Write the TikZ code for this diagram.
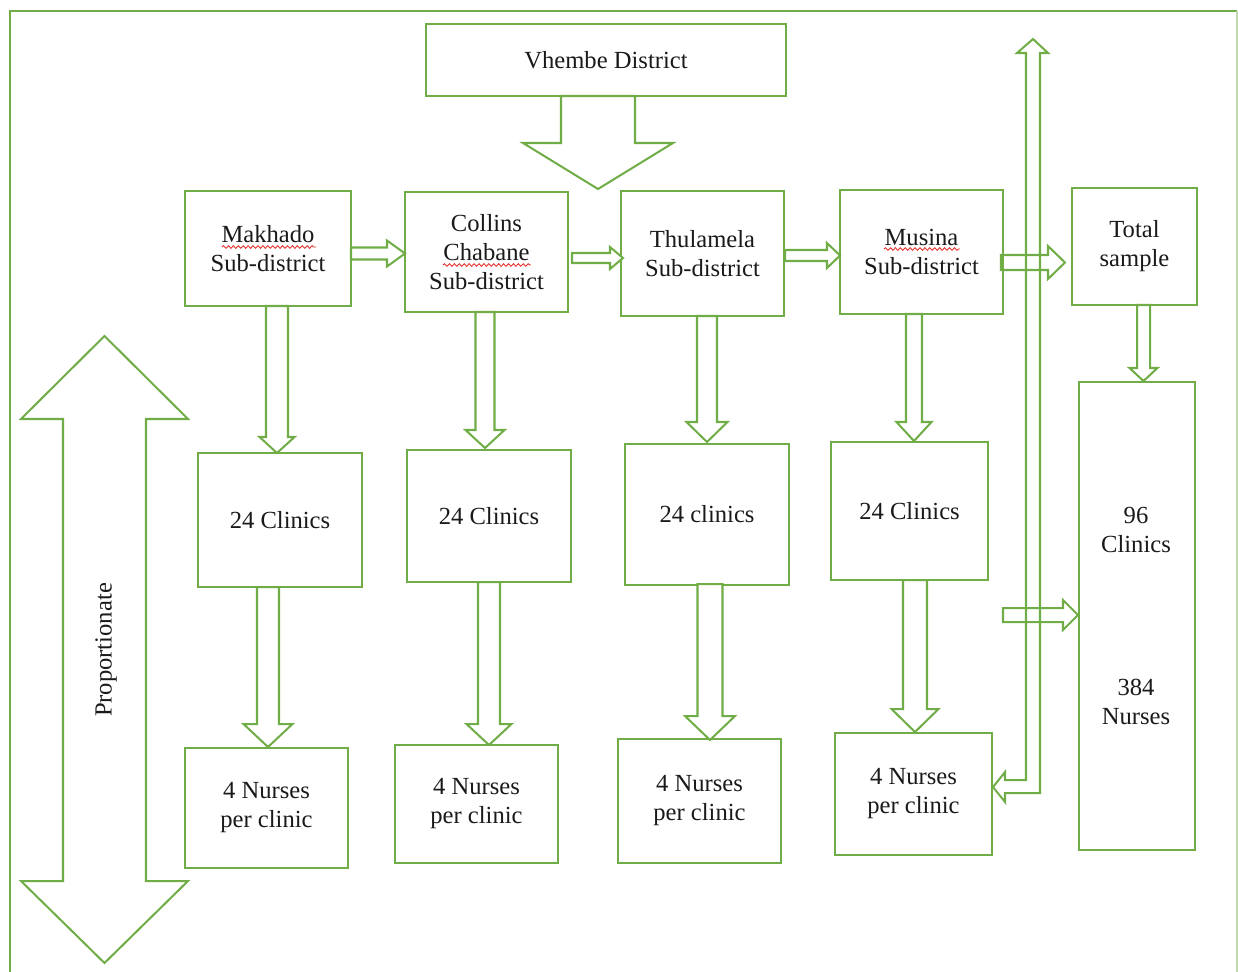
\documentclass[tikz,border=0pt]{standalone}
\usepackage{fontspec}
\setmainfont{Liberation Serif}
\usetikzlibrary{decorations.pathmorphing}
\definecolor{leaf}{HTML}{70AD47}
\definecolor{spell}{HTML}{E8322C}
\definecolor{ink}{HTML}{1A1A1A}

% box from its corners (x1,y1)-(x2,y2), in pixel units
\newcommand{\boxat}[6]{%
  \node[box, minimum width={(#4-#2)*0.02cm}, minimum height={(#5-#3)*0.02cm}]
    (#1) at ({(#2+#4)/2},{(#3+#5)/2}) {#6};}
% downward block arrow: centre x, shaft top, head base, tip, shaft half width, head half width
\newcommand{\vblock}[7][]{%
  \draw[blockarrow,#1] ({#2-#6},#3) -- ({#2-#6},#4) -- ({#2-#7},#4) -- (#2,#5)
    -- ({#2+#7},#4) -- ({#2+#6},#4) -- ({#2+#6},#3) -- cycle;}
% rightward block arrow: centre y, shaft start, head base, tip, shaft half width, head half width
\newcommand{\hblock}[7][]{%
  \draw[blockarrow,#1] (#3,{#2-#6}) -- (#4,{#2-#6}) -- (#4,{#2-#7}) -- (#5,#2)
    -- (#4,{#2+#7}) -- (#4,{#2+#6}) -- (#3,{#2+#6}) -- cycle;}
% wavy spelling mark under a word
\newcommand{\spellmark}[3]{%
  \draw[spell, line width=0.5pt, decorate,
        decoration={snake, amplitude=0.75pt, segment length=2.8pt}] (#1,#3) -- (#2,#3);}

\begin{document}
\begin{tikzpicture}[x=0.02cm, y=-0.02cm,
  box/.style={draw=leaf, line width=1.3pt, fill=white, inner sep=0pt, outer sep=0pt,
              align=center, text=ink, font=\fontsize{14}{16.5}\selectfont},
  label/.style={align=center, text=ink, font=\fontsize{14}{16.5}\selectfont},
  blockarrow/.style={draw=leaf, line width=1.15pt, fill=white, line join=miter}]
\useasboundingbox (0,0) rectangle (1238,971);

% frame
\draw[leaf, line width=1.4pt] (10,975) -- (10,11) -- (1237,11);
\draw[leaf!45, line width=0.8pt] (1237,11) -- (1237,975);

% district level
\boxat{vhembe}{426}{24}{786}{96}{Vhembe District}
\vblock{598}{96}{143}{189}{37}{75}

% sub-districts
\boxat{mak}{185}{191}{351}{306}{Makhado\\Sub-district}
\boxat{col}{405}{192}{568}{312}{Collins\\Chabane\\Sub-district}
\boxat{thu}{621}{191}{784}{316}{Thulamela\\Sub-district}
\boxat{mus}{840}{190}{1003}{314}{Musina\\Sub-district}
\boxat{tot}{1072}{188}{1197}{305}{Total\\sample}

\spellmark{222}{316}{247}
\spellmark{443}{531}{265}
\spellmark{884}{960}{249}

\hblock{253.5}{351}{387}{405}{6}{13}
\hblock{258}{572}{610}{623}{5}{11}
\hblock{255.5}{785}{827}{840}{5.5}{12.5}

% clinics
\boxat{cl1}{198}{453}{362}{587}{24 Clinics}
\boxat{cl2}{407}{450}{571}{582}{24 Clinics}
\boxat{cl3}{625}{444}{789}{585}{24 clinics}
\boxat{cl4}{831}{442}{988}{580}{24 Clinics}

% nurses
\boxat{nu1}{185}{748}{348}{868}{4 Nurses\\per clinic}
\boxat{nu2}{395}{745}{558}{863}{4 Nurses\\per clinic}
\boxat{nu3}{618}{739}{781}{863}{4 Nurses\\per clinic}
\boxat{nu4}{835}{733}{992}{855}{4 Nurses\\per clinic}

% overall sample
\boxat{all}{1079}{382}{1195}{850}{}
\node[label] (allcl) at (1136,530) {96\\Clinics};
\node[label] (allnu) at (1136,702) {384\\Nurses};

% sub-district -> clinics
\vblock{277}{306}{437}{453}{11}{17.5}
\vblock{485}{312}{430}{448}{9.5}{19.5}
\vblock{707}{316}{422}{442}{10}{20.5}
\vblock{914}{314}{422}{441}{8}{17.5}
\vblock{1143.5}{305}{368}{381}{6.5}{14}

% clinics -> nurses
\vblock{268}{587}{724}{747}{11}{24.5}
\vblock{489}{582}{724}{745}{11}{22.5}
\vblock{710}{584}{716}{740}{12.5}{25}
\vblock{915}{580}{709}{732}{12}{23.5}

% crossing arrows on the right
\draw[blockarrow, fill=none] (1033,39) -- (1048,53) -- (1040,53) -- (1040,793)
  -- (1005,793) -- (1005,802) -- (993,787) -- (1005,772) -- (1005,780)
  -- (1026,780) -- (1026,53) -- (1017,53) -- cycle;
\hblock[fill=none]{262.5}{1001}{1048}{1065}{7.5}{16.5}
\hblock[fill=none]{615}{1003}{1063}{1078}{7}{15}

% proportionate double arrow
\draw[blockarrow] (104.5,336) -- (188,419) -- (146,419) -- (146,881) -- (188,881)
  -- (104.5,963) -- (21,881) -- (63,881) -- (63,419) -- (21,419) -- cycle;
\node[label, rotate=90] (prop) at (106,650) {Proportionate};
\end{tikzpicture}
\end{document}
